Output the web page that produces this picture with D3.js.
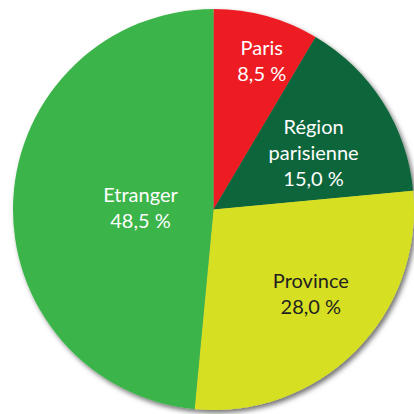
<!DOCTYPE html>
<html>
<head>
<meta charset="utf-8">
<script src="https://cdn.jsdelivr.net/npm/d3@7"></script>
<style>
  html, body { margin: 0; padding: 0; background: #fff; }
  svg { display: block; }
  text { font-family: Lato, "Open Sans", sans-serif; font-size: 20px; }
</style>
</head>
<body>
<svg id="chart"></svg>
<script>
// data
const categories = ["Paris", "Région parisienne", "Province", "Etranger"];
const values = [8.5, 15.0, 28.0, 48.5];
const labelLines = [["Paris"], ["Région", "parisienne"], ["Province"], ["Etranger"]];
const colors = ["#ed1c24", "#10663a", "#d6df22", "#3bb44a"];
const textColors = ["#fff", "#fff", "#231f20", "#fff"];
// where the labels sit: angle (deg, clockwise from top) and distance from center
const labelAngle = [18, 60.5, 131, 271];
const labelDist = [156, 115, 129, 73];

const w = 414, h = 414;
const cx = 213.5, cy = 209.5, radius = 200.5;
const lineH = 26;

const svg = d3.select("#chart").attr("width", w).attr("height", h);

const defs = svg.append("defs");
const f = defs.append("filter").attr("id", "shadow")
  .attr("x", "-10%").attr("y", "-10%").attr("width", "120%").attr("height", "120%");
f.append("feDropShadow")
  .attr("dx", 2.5).attr("dy", 3)
  .attr("stdDeviation", 2.5)
  .attr("flood-color", "#000").attr("flood-opacity", 0.55);

const pie = d3.pie().sort(null).value(d => d);
const arc = d3.arc().innerRadius(0).outerRadius(radius);

const g = svg.append("g").attr("transform", `translate(${cx},${cy})`);

g.append("g").attr("filter", "url(#shadow)")
  .selectAll("path")
  .data(pie(values))
  .enter().append("path")
  .attr("d", arc)
  .attr("fill", (d, i) => colors[i]);

const lbl = g.selectAll("text.lbl")
  .data(pie(values))
  .enter().append("text")
  .attr("class", "lbl")
  .attr("text-anchor", "middle")
  .attr("fill", (d, i) => textColors[i])
  .attr("transform", (d, i) => {
    const a = labelAngle[i] * Math.PI / 180;
    const x = labelDist[i] * Math.sin(a);
    const y = -labelDist[i] * Math.cos(a);
    return `translate(${x},${y})`;
  });

lbl.each(function(d, i) {
  const lines = labelLines[i].concat([d3.format(".1f")(values[i]).replace(".", ",") + " %"]);
  const top = -(lines.length - 1) * lineH / 2 + 7;
  d3.select(this).selectAll("tspan")
    .data(lines)
    .enter().append("tspan")
    .attr("x", 0)
    .attr("y", (s, k) => top + k * lineH)
    .text(s => s);
});
</script>
</body>
</html>
